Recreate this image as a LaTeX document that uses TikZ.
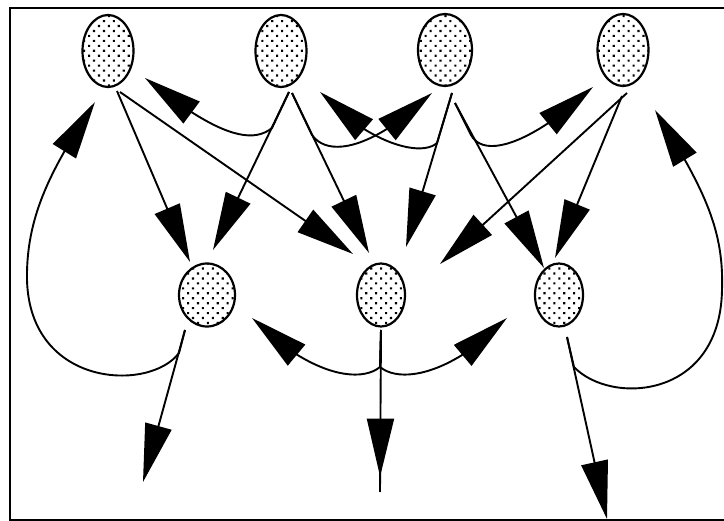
\documentclass[tikz,border=0pt]{standalone}
\usetikzlibrary{shapes.geometric,arrows.meta,patterns.meta,calc,bending,decorations.markings}
\begin{document}
\begin{tikzpicture}[x=1pt,y=-1pt,
  cell/.style={ellipse, draw, line width=2.2pt, inner sep=0pt,
    pattern={Dots[distance=7pt,angle=45,radius=1.5pt]}},
  topcell/.style={cell, minimum width=51pt, minimum height=72pt},
  midcell/.style={cell, minimum width=48pt, minimum height=63pt},
  link/.style={line width=1.9pt, -{Triangle[length=58pt,width=27pt]}},
  frameline/.style={line width=1.6pt}
]
\useasboundingbox (0,0) rectangle (724,521);
\draw[frameline] (724,8) -- (10,8) -- (10,520) -- (724,520);

% nodes
\node[topcell] (t1) at (108,51) {};
\node[topcell] (t2) at (281,51) {};
\node[topcell, minimum width=54pt] (t3) at (445,50) {};
\node[topcell] (t4) at (623,50) {};
\node[midcell, minimum width=56pt] (m1) at (207,295) {};
\node[midcell] (m2) at (381,295) {};
\node[midcell] (m3) at (559,295) {};

% free ends
\coordinate (e1) at (143,482);
\coordinate (e2) at (380,492);
\coordinate (e3) at (607,519);

% top row to middle row
\draw[link] ($(t1)+(9,40)$) -- ($(m1)+(-17,-33)$);
\draw[link] ($(t1)+(12,41)$) -- ($(m2)+(-28,-41)$);
\draw[link] ($(t2)+(8,41)$) -- ($(m1)+(6,-45)$);
\draw[link] ($(t2)+(11,42)$) -- ($(m2)+(-12,-42)$);
\draw[link] ($(t3)+(7,43)$) -- ($(m2)+(25,-48)$);
\draw[link] ($(t3)+(10,53)$) -- ($(m3)+(-15,-27)$);
\draw[link] ($(t4)+(4,43)$) -- ($(m2)+(59,-31)$);
\draw[link] ($(t4)+(-1,46)$) -- ($(m3)+(-4,-37)$);

% top-row curves
\draw[link] ($(t2)+(8,41)$) -- (272,128) .. controls (250,146) and (212,132) .. ($(t1)+(37,27)$);
\draw[link] ($(t2)+(11,42)$) -- (312,135) .. controls (330,160) and (378,145) .. ($(t3)+(-13,43)$);
\draw[link] ($(t3)+(7,43)$) -- (437,143) .. controls (420,158) and (366,142) .. ($(t2)+(39,41)$);
\draw[link] ($(t3)+(10,53)$) -- (471,135) .. controls (486,162) and (540,137) .. ($(t4)+(-30,37)$);

% middle row outputs
\draw[link] ($(m1)+(-22,35)$) -- (e1);
\draw[line width=1.9pt, postaction=decorate,
  decoration={markings, mark=at position 0.905 with {\arrow{Triangle[length=58pt,width=27pt]}}}]
  ($(m2)+(0,35)$) -- (e2);
\draw[link] ($(m3)+(8,42)$) -- (e3);

% middle row curves
\draw[link] ($(m2)+(0,35)$) -- (380,367) .. controls (358,385) and (305,372) .. ($(m1)+(45,23)$);
\draw[link] ($(m2)+(0,35)$) -- (380,367) .. controls (402,385) and (455,372) .. ($(m3)+(-52,23)$);
\draw[link] ($(m1)+(-22,35)$) -- (179,353) .. controls (150,392) and (30,388) .. (27,280)
  .. controls (26,215) and (52,168) .. ($(t1)+(-13,51)$);
\draw[link] ($(m3)+(8,42)$) -- (574,367) .. controls (610,405) and (720,400) .. (722,290)
  .. controls (724,230) and (705,190) .. ($(t4)+(32,60)$);
\end{tikzpicture}
\end{document}
